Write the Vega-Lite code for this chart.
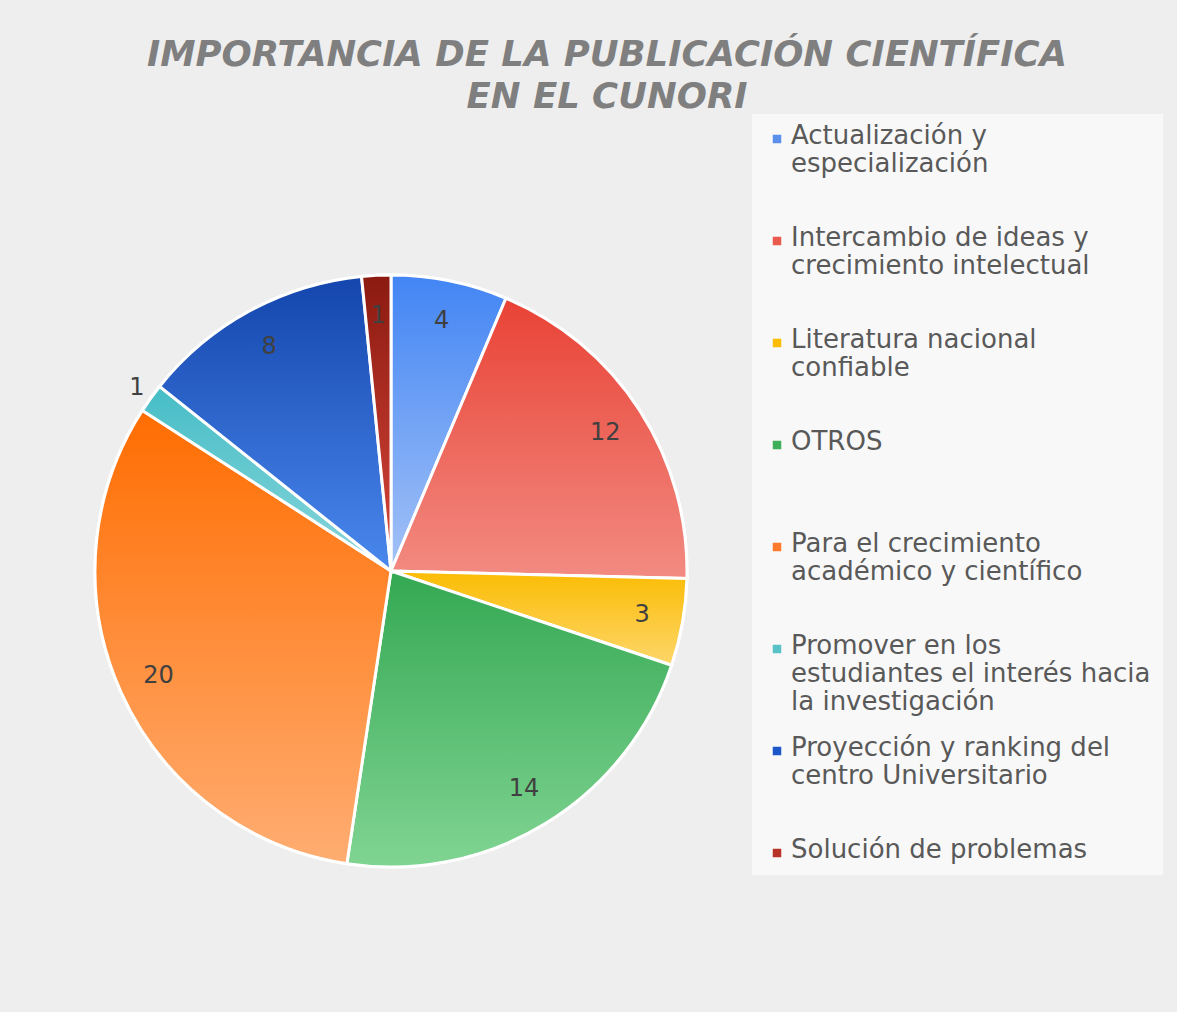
{
  "$schema": "https://vega.github.io/schema/vega-lite/v6.json",
  "width": 782,
  "height": 882,
  "padding": {"left": 0, "top": 37, "right": 14, "bottom": 0},
  "background": "#eeeeee",
  "title": {
    "text": ["IMPORTANCIA DE LA PUBLICACIÓN CIENTÍFICA", "EN EL CUNORI"],
    "font": "DejaVu Sans",
    "fontSize": 35.5,
    "fontStyle": "italic",
    "fontWeight": "bold",
    "color": "#7f7f7f",
    "lineHeight": 42,
    "anchor": "middle",
    "frame": "group",
    "dx": 216,
    "offset": -1
  },
  "data": {
    "values": [
      {"cat": "Actualización y especialización", "n": 4, "order": 1},
      {"cat": "Intercambio de ideas y crecimiento intelectual", "n": 12, "order": 2},
      {"cat": "Literatura nacional confiable", "n": 3, "order": 3},
      {"cat": "OTROS", "n": 14, "order": 4},
      {"cat": "Para el crecimiento académico y científico", "n": 20, "order": 5},
      {"cat": "Promover en los estudiantes el interés hacia la investigación", "n": 1, "order": 6},
      {"cat": "Proyección y ranking del centro Universitario", "n": 8, "order": 7},
      {"cat": "Solución de problemas", "n": 1, "order": 8}
    ]
  },
  "transform": [
    {"stack": "n", "groupby": [], "sort": [{"field": "order", "order": "ascending"}], "as": ["s0", "s1"]}
  ],
  "layer": [
    {
      "mark": {"type": "arc", "outerRadius": 296, "stroke": "white", "strokeWidth": 3},
      "encoding": {
        "theta": {"field": "n", "type": "quantitative", "stack": true, "scale": {"domain": [0, 63]}},
        "order": {"field": "order", "type": "quantitative"},
        "color": {
          "field": "cat",
          "type": "nominal",
          "scale": {
            "domain": [
              "Actualización y especialización",
              "Intercambio de ideas y crecimiento intelectual",
              "Literatura nacional confiable",
              "OTROS",
              "Para el crecimiento académico y científico",
              "Promover en los estudiantes el interés hacia la investigación",
              "Proyección y ranking del centro Universitario",
              "Solución de problemas"
            ],
            "range": ["#5a90ec", "#e8594e", "#fbbc04", "#3dae5a", "#ff7a2a", "#57c3c9", "#1c56c9", "#b83227"]
          },
          "legend": {
            "title": null,
            "orient": "none",
            "legendX": 752,
            "legendY": -16,
            "direction": "vertical",
            "symbolType": "square",
            "symbolSize": 72,
            "symbolStrokeWidth": 0,
            "labelFont": "DejaVu Sans",
            "labelFontSize": 26,
            "labelColor": "#595959",
            "labelLineHeight": 32,
            "labelLimit": 600,
            "labelOffset": 1,
            "labelBaseline": "top",
            "gridAlign": "all",
            "rowPadding": 20,
            "padding": 12,
            "fillColor": "#f8f8f8",
            "encoding": {"labels": {"dy": {"value": -16}}},
            "labelExpr": "datum.label == 'Actualización y especialización' ? ['Actualización y', 'especialización'] : datum.label == 'Intercambio de ideas y crecimiento intelectual' ? ['Intercambio de ideas y', 'crecimiento intelectual'] : datum.label == 'Literatura nacional confiable' ? ['Literatura nacional', 'confiable'] : datum.label == 'Para el crecimiento académico y científico' ? ['Para el crecimiento', 'académico y científico'] : datum.label == 'Promover en los estudiantes el interés hacia la investigación' ? ['Promover en los', 'estudiantes el interés hacia', 'la investigación'] : datum.label == 'Proyección y ranking del centro Universitario' ? ['Proyección y ranking del', 'centro Universitario'] : datum.label"
          }
        }
      }
    },
    {
      "transform": [{"filter": "datum.order == 1"}],
      "mark": {"type": "arc", "outerRadius": 296, "stroke": "white", "strokeWidth": 3,
        "fill": {"gradient": "linear", "x1": 0, "y1": 0, "x2": 0, "y2": 1, "stops": [{"offset": 0, "color": "#4285f4"}, {"offset": 1, "color": "#a4c2f6"}]}},
      "encoding": {"theta": {"field": "s0", "type": "quantitative"}, "theta2": {"field": "s1"}}
    },
    {
      "transform": [{"filter": "datum.order == 2"}],
      "mark": {"type": "arc", "outerRadius": 296, "stroke": "white", "strokeWidth": 3,
        "fill": {"gradient": "linear", "x1": 0, "y1": 0, "x2": 0, "y2": 1, "stops": [{"offset": 0, "color": "#e94235"}, {"offset": 1, "color": "#f28b82"}]}},
      "encoding": {"theta": {"field": "s0", "type": "quantitative"}, "theta2": {"field": "s1"}}
    },
    {
      "transform": [{"filter": "datum.order == 3"}],
      "mark": {"type": "arc", "outerRadius": 296, "stroke": "white", "strokeWidth": 3,
        "fill": {"gradient": "linear", "x1": 0, "y1": 0, "x2": 0, "y2": 1, "stops": [{"offset": 0, "color": "#fbbc04"}, {"offset": 1, "color": "#fdd66a"}]}},
      "encoding": {"theta": {"field": "s0", "type": "quantitative"}, "theta2": {"field": "s1"}}
    },
    {
      "transform": [{"filter": "datum.order == 4"}],
      "mark": {"type": "arc", "outerRadius": 296, "stroke": "white", "strokeWidth": 3,
        "fill": {"gradient": "linear", "x1": 0, "y1": 0, "x2": 0, "y2": 1, "stops": [{"offset": 0, "color": "#34a853"}, {"offset": 1, "color": "#80d492"}]}},
      "encoding": {"theta": {"field": "s0", "type": "quantitative"}, "theta2": {"field": "s1"}}
    },
    {
      "transform": [{"filter": "datum.order == 5"}],
      "mark": {"type": "arc", "outerRadius": 296, "stroke": "white", "strokeWidth": 3,
        "fill": {"gradient": "linear", "x1": 0, "y1": 0, "x2": 0, "y2": 1, "stops": [{"offset": 0, "color": "#ff6d01"}, {"offset": 1, "color": "#ffad72"}]}},
      "encoding": {"theta": {"field": "s0", "type": "quantitative"}, "theta2": {"field": "s1"}}
    },
    {
      "transform": [{"filter": "datum.order == 6"}],
      "mark": {"type": "arc", "outerRadius": 296, "stroke": "white", "strokeWidth": 3,
        "fill": {"gradient": "linear", "x1": 0, "y1": 0, "x2": 0, "y2": 1, "stops": [{"offset": 0, "color": "#46bdc6"}, {"offset": 1, "color": "#8ad6db"}]}},
      "encoding": {"theta": {"field": "s0", "type": "quantitative"}, "theta2": {"field": "s1"}}
    },
    {
      "transform": [{"filter": "datum.order == 7"}],
      "mark": {"type": "arc", "outerRadius": 296, "stroke": "white", "strokeWidth": 3,
        "fill": {"gradient": "linear", "x1": 0, "y1": 0, "x2": 0, "y2": 1, "stops": [{"offset": 0, "color": "#1446ad"}, {"offset": 1, "color": "#4a88ee"}]}},
      "encoding": {"theta": {"field": "s0", "type": "quantitative"}, "theta2": {"field": "s1"}}
    },
    {
      "transform": [{"filter": "datum.order == 8"}],
      "mark": {"type": "arc", "outerRadius": 296, "stroke": "white", "strokeWidth": 3,
        "fill": {"gradient": "linear", "x1": 0, "y1": 0, "x2": 0, "y2": 1, "stops": [{"offset": 0, "color": "#8b1a10"}, {"offset": 1, "color": "#d9473b"}]}},
      "encoding": {"theta": {"field": "s0", "type": "quantitative"}, "theta2": {"field": "s1"}}
    },
    {
      "mark": {"type": "text", "radius": 255, "font": "DejaVu Sans", "fontSize": 24, "color": "#404040", "align": "center", "baseline": "middle"},
      "encoding": {
        "theta": {"field": "n", "type": "quantitative", "stack": true},
        "order": {"field": "order", "type": "quantitative"},
        "text": {"condition": {"test": "datum.order == 6", "value": ""}, "field": "n", "type": "quantitative"}
      }
    },
    {
      "mark": {"type": "text", "radius": 313, "font": "DejaVu Sans", "fontSize": 24, "color": "#404040", "align": "center", "baseline": "middle"},
      "encoding": {
        "theta": {"field": "n", "type": "quantitative", "stack": true},
        "order": {"field": "order", "type": "quantitative"},
        "text": {"condition": {"test": "datum.order == 6", "field": "n", "type": "quantitative"}, "value": ""}
      }
    }
  ],
  "config": {"view": {"stroke": null}}
}
